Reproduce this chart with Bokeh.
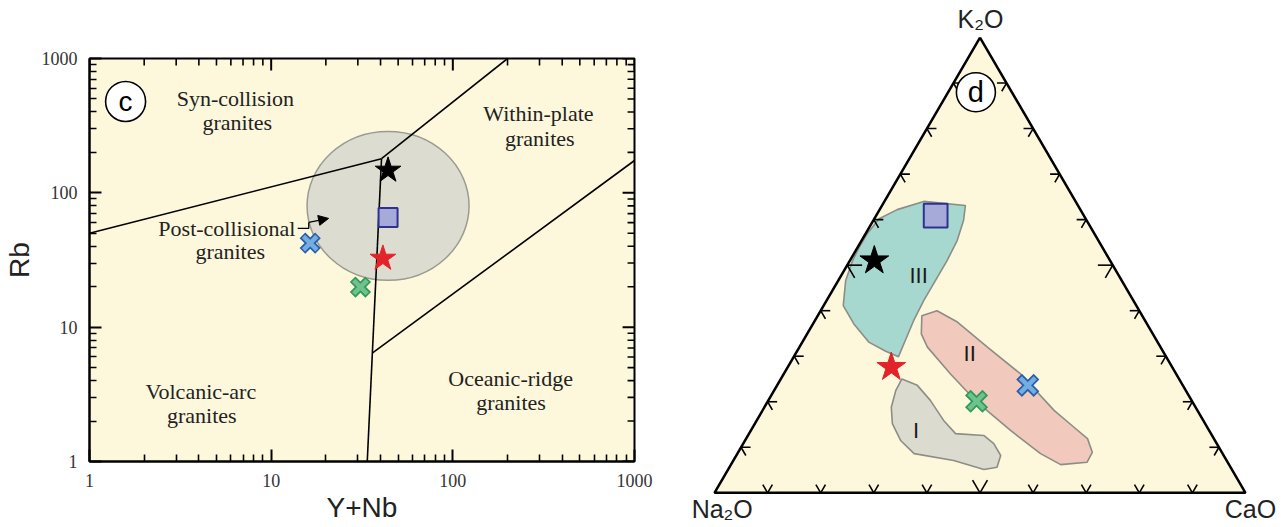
import math
from bokeh.plotting import figure
from bokeh.layouts import row
from bokeh.models import Range1d, FixedTicker, Arrow, NormalHead, PrintfTickFormatter
from bokeh.core.properties import value
from bokeh.embed import file_html
from bokeh.resources import INLINE

YELLOW = "#fdf8dc"
SERIF = "Liberation Serif"
SANS = "Liberation Sans"

# ---------------- panel (c): Rb vs Y+Nb ----------------
major_ticks = [1, 10, 100, 1000]
tick_labels = ["1", "10", "100", "1000"]

sample_markers = ["black star", "square", "red star", "blue x", "green x"]
ynb = [44.0, 44.0, 41.2, 16.4, 31.0]
rb = [147.0, 65.6, 32.5, 42.2, 19.9]

# discrimination boundaries
vag_syn_x = [1, 40.5]
vag_syn_y = [50, 179.5]
syn_wpg_x = [40.5, 200]
syn_wpg_y = [179.5, 1000]
vag_wpg_x = [40.5, 33.8]
vag_wpg_y = [179.5, 1]
wpg_org_x = [36.0, 1000]
wpg_org_y = [6.4, 174]

# post-collisional field (centre)
postcol_x = [44.0]
postcol_y = [80.0]

# field names: text, x, y
field_text = ["Syn-collision", "granites", "Within-plate", "granites",
              "Post-collisional", "granites", "Volcanic-arc", "granites",
              "Oceanic-ridge", "granites"]
field_x = [6.35, 6.51, 296, 301, 5.70, 5.95, 4.10, 4.15, 208, 209]
field_y = [502, 336, 388, 255, 54.0, 36.8, 3.32, 2.20, 4.13, 2.76]

# arrow of the post-collisional label
pc_step_x = [14.0, 16.1, 16.1]
pc_step_y = [54.3, 54.3, 60.2]

# ---------------- panel (d): K2O - Na2O - CaO ----------------
t_k2o = [51.0, 60.9, 27.6, 23.6, 20.1]
t_na2o = [44.4, 27.9, 52.9, 29.2, 40.6]
t_cao = [4.6, 11.2, 19.5, 47.2, 39.3]

f3_k2o = [64.0, 63.1, 59.8, 55.4, 51.0, 46.6, 42.2, 37.8, 33.5, 29.9, 31.1, 33.1, 37.1, 41.1, 46.6, 51.0, 53.9, 56.9, 60.2, 62.2]
f3_na2o = [28.6, 21.2, 23.2, 26.6, 30.7, 35.1, 39.5, 43.6, 47.3, 50.4, 52.2, 54.4, 55.2, 55.2, 52.0, 48.5, 45.8, 42.8, 38.9, 34.5]
f3_cao = [7.4, 15.7, 17.0, 18.0, 18.3, 18.3, 18.3, 18.6, 19.2, 19.7, 16.7, 12.5, 7.7, 3.7, 1.4, 0.5, 0.3, 0.3, 0.9, 3.3]

f2_k2o = [38.9, 40.0, 37.5, 32.0, 26.1, 18.1, 14.4, 11.9, 8.9, 6.7, 6.2, 8.6, 13.7, 19.9, 26.1, 32.0, 34.9]
f2_na2o = [41.5, 38.1, 35.5, 32.6, 29.3, 27.0, 25.1, 23.8, 24.4, 26.5, 31.7, 34.3, 37.4, 40.6, 42.5, 43.9, 43.6]
f2_cao = [19.6, 21.9, 27.0, 35.4, 44.6, 54.9, 60.5, 64.3, 66.7, 66.8, 62.1, 57.1, 48.9, 39.5, 31.4, 24.1, 21.5]

f1_k2o = [25.0, 23.6, 20.3, 15.9, 13.0, 12.6, 10.8, 8.2, 5.6, 5.1, 7.1, 8.6, 11.5, 15.2, 18.8, 22.5]
f1_na2o = [52.2, 50.0, 49.2, 48.9, 48.1, 43.0, 42.0, 42.0, 44.0, 46.7, 51.4, 58.1, 59.2, 58.9, 57.3, 54.6]
f1_cao = [22.8, 26.4, 30.5, 35.2, 38.9, 44.4, 47.2, 49.8, 50.4, 48.2, 41.5, 33.3, 29.3, 25.9, 23.9, 22.9]

field_names = ["III", "II", "I"]
fname_k2o = [47.7, 30.5, 13.7]
fname_na2o = [37.7, 36.7, 55.2]
fname_cao = [14.6, 32.8, 31.1]

apex_names = ["K\u2082O", "Na\u2082O", "CaO"]
tick_steps = [10, 20, 30, 40, 50, 60, 70, 80, 90]


def tern(k, na, ca):
    xs, ys = [], []
    for a, b, c in zip(k, na, ca):
        t = a + b + c
        xs.append(c / t + 0.5 * a / t)
        ys.append(a / t)
    return xs, ys


# =============== figure c ===============
W1, H1 = 680, 527
BL, BR, BT, BB = 85, 46, 58, 66
p1 = figure(width=W1, height=H1, x_axis_type="log", y_axis_type="log",
            x_range=Range1d(1, 1000), y_range=Range1d(1, 1000),
            output_backend="svg", toolbar_location=None,
            min_border_left=BL, min_border_right=BR, min_border_top=BT, min_border_bottom=BB,
            background_fill_color=YELLOW, border_fill_color="white",
            outline_line_color="black", outline_line_width=2)
p1.grid.visible = False

minor = [m * 10 ** e for e in range(3) for m in range(2, 10)]
MAJ_LEN, MIN_LEN = 12, 7

for ax in (p1.xaxis[0], p1.yaxis[0]):
    ax.ticker = FixedTicker(ticks=major_ticks, minor_ticks=minor)
    ax.formatter = PrintfTickFormatter(format="%d")
    ax.axis_line_color = "black"
    ax.axis_line_width = 2
    ax.major_tick_in = MAJ_LEN
    ax.major_tick_out = 0
    ax.minor_tick_in = MIN_LEN
    ax.minor_tick_out = 0
    ax.major_tick_line_width = 2
    ax.minor_tick_line_width = 1.6
    ax.major_label_text_font = SERIF
    ax.major_label_text_font_size = "18px"
    ax.major_label_text_color = "#333333"
    ax.axis_label_text_font = SANS
    ax.axis_label_text_font_size = "28px"
    ax.axis_label_text_font_style = "normal"
    ax.axis_label_text_color = "#222222"

p1.yaxis[0].major_label_standoff = 12
p1.yaxis[0].axis_label = "Rb"
p1.yaxis[0].axis_label_standoff = 4
p1.xaxis[0].major_label_standoff = 12
p1.xaxis[0].axis_label = "Y+Nb"
p1.xaxis[0].axis_label_standoff = 2

# mirrored inward ticks on the top and right sides
px_dec_x = (W1 - BL - BR) / 3.0
px_dec_y = (H1 - BT - BB) / 3.0
all_ticks = major_ticks + minor
for t in all_ticks:
    L = MAJ_LEN if t in major_ticks else MIN_LEN
    lw = 2 if t in major_ticks else 1.6
    p1.segment(x0=[t], y0=[1000], x1=[t], y1=[1000 / 10 ** (L / px_dec_y)], line_color="black", line_width=lw)
    p1.segment(x0=[1000], y0=[t], x1=[1000 / 10 ** (L / px_dec_x)], y1=[t], line_color="black", line_width=lw)

p1.ellipse(x=postcol_x, y=postcol_y, width=162, height=149,
           width_units="screen", height_units="screen",
           fill_color="#dddcd0", line_color="#9a9a8e", line_width=1.5)

for xs, ys in [(vag_syn_x, vag_syn_y), (syn_wpg_x, syn_wpg_y),
               (vag_wpg_x, vag_wpg_y), (wpg_org_x, wpg_org_y)]:
    p1.line(xs, ys, line_color="black", line_width=1.6)

p1.line(pc_step_x, pc_step_y, line_color="black", line_width=1.3)
p1.add_layout(Arrow(end=NormalHead(size=10, fill_color="black", line_color="black"),
                    x_start=pc_step_x[-1], y_start=pc_step_y[-1], x_end=20.7, y_end=64.5,
                    line_color="black", line_width=1.3))

p1.text(x=field_x, y=field_y, text=field_text, text_font=value(SERIF),
        text_font_size="22px", text_color="#222222",
        text_align="center", text_baseline="middle")

# panel letter
p1.scatter(x=[1.58], y=[479], size=40, marker="circle", fill_color="white",
           line_color="black", line_width=1.6)
p1.text(x=[1.58], y=[479], text=["c"], text_font=value(SANS), text_font_size="28px",
        text_color="black", text_align="center", text_baseline="middle")


def draw_samples(p, xs, ys, big):
    s = 1.12 if big else 1.0
    sq = 1.25 if big else 1.0
    p.scatter(x=[xs[0]], y=[ys[0]], marker="star", size=27 * s, fill_color="black", line_color="black")
    p.scatter(x=[xs[1]], y=[ys[1]], marker="square", size=19 * sq, fill_color="#a5aad8",
              line_color="#2e3192", line_width=2)
    p.scatter(x=[xs[2]], y=[ys[2]], marker="star", size=27 * s, fill_color="#e3232a", line_color="#e3232a")
    p.scatter(x=[xs[3]], y=[ys[3]], marker="x", size=22 * s, line_color="#2c5ea8", line_width=8)
    p.scatter(x=[xs[3]], y=[ys[3]], marker="x", size=19 * s, line_color="#72aee3", line_width=4.5)
    p.scatter(x=[xs[4]], y=[ys[4]], marker="x", size=22 * s, line_color="#2f9a57", line_width=8)
    p.scatter(x=[xs[4]], y=[ys[4]], marker="x", size=19 * s, line_color="#6fc28e", line_width=4.5)


draw_samples(p1, ynb, rb, False)

# =============== figure d ===============
p2 = figure(width=601, height=527, x_range=Range1d(-0.064, 1.0678), y_range=Range1d(-0.0762, 1.0813),
            output_backend="svg", toolbar_location=None, min_border=0,
            x_axis_location=None, y_axis_location=None,
            background_fill_color="white", border_fill_color="white", outline_line_color=None)
p2.grid.visible = False

tri_x, tri_y = tern([100, 0, 0], [0, 100, 0], [0, 0, 100])
p2.patch(tri_x, tri_y, fill_color=YELLOW, line_color=None)

for k, na, ca, col in [(f3_k2o, f3_na2o, f3_cao, "#a6d8d0"),
                       (f2_k2o, f2_na2o, f2_cao, "#f2c9bd"),
                       (f1_k2o, f1_na2o, f1_cao, "#dcdbd0")]:
    fx, fy = tern(k, na, ca)
    p2.patch(fx, fy, fill_color=col, line_color="#8d8d85", line_width=1.6)

# ternary ticks: two short arms along the grid directions
tk_x, tk_y = [], []
for s in tick_steps:
    d = 2.8 if s == 50 else 1.8
    for base, arms in [((s, 100 - s, 0), [(0, -d, d), (-d, 0, d)]),
                       ((s, 0, 100 - s), [(0, d, -d), (-d, d, 0)]),
                       ((0, 100 - s, s), [(d, 0, -d), (d, -d, 0)])]:
        for arm in arms:
            xs, ys = tern([base[0], base[0] + arm[0]], [base[1], base[1] + arm[1]],
                          [base[2], base[2] + arm[2]])
            tk_x.append(xs)
            tk_y.append(ys)
p2.multi_line(tk_x, tk_y, line_color="black", line_width=1.6)

p2.line(tri_x + [tri_x[0]], tri_y + [tri_y[0]], line_color="black", line_width=2.5)

fnx, fny = tern(fname_k2o, fname_na2o, fname_cao)
p2.text(x=fnx, y=fny, text=field_names, text_font=value(SANS), text_font_size="22px",
        text_color="#1a1a1a", text_align="center", text_baseline="middle")

sx, sy = tern(t_k2o, t_na2o, t_cao)
draw_samples(p2, sx, sy, True)

# panel letter d
p2.scatter(x=[0.4923], y=[0.8799], size=39, marker="circle", fill_color="white",
           line_color="black", line_width=1.6)
p2.text(x=[0.4923], y=[0.8799], text=["d"], text_font=value(SANS), text_font_size="29px",
        text_color="black", text_align="center", text_baseline="middle")

# apex names
p2.text(x=[0.5009, 0.0145, 1.0094], y=[1.0417, -0.036, -0.036], text=apex_names,
        text_font=value(SANS), text_font_size="25px", text_color="#222222",
        text_align="center", text_baseline="middle")

# keep each panel's frame independent inside the row
for p in (p1, p2):
    if "frame_align" in p.properties():
        p.frame_align = False

layout = row(p1, p2)
open("out.html", "w").write(file_html(layout, INLINE))
